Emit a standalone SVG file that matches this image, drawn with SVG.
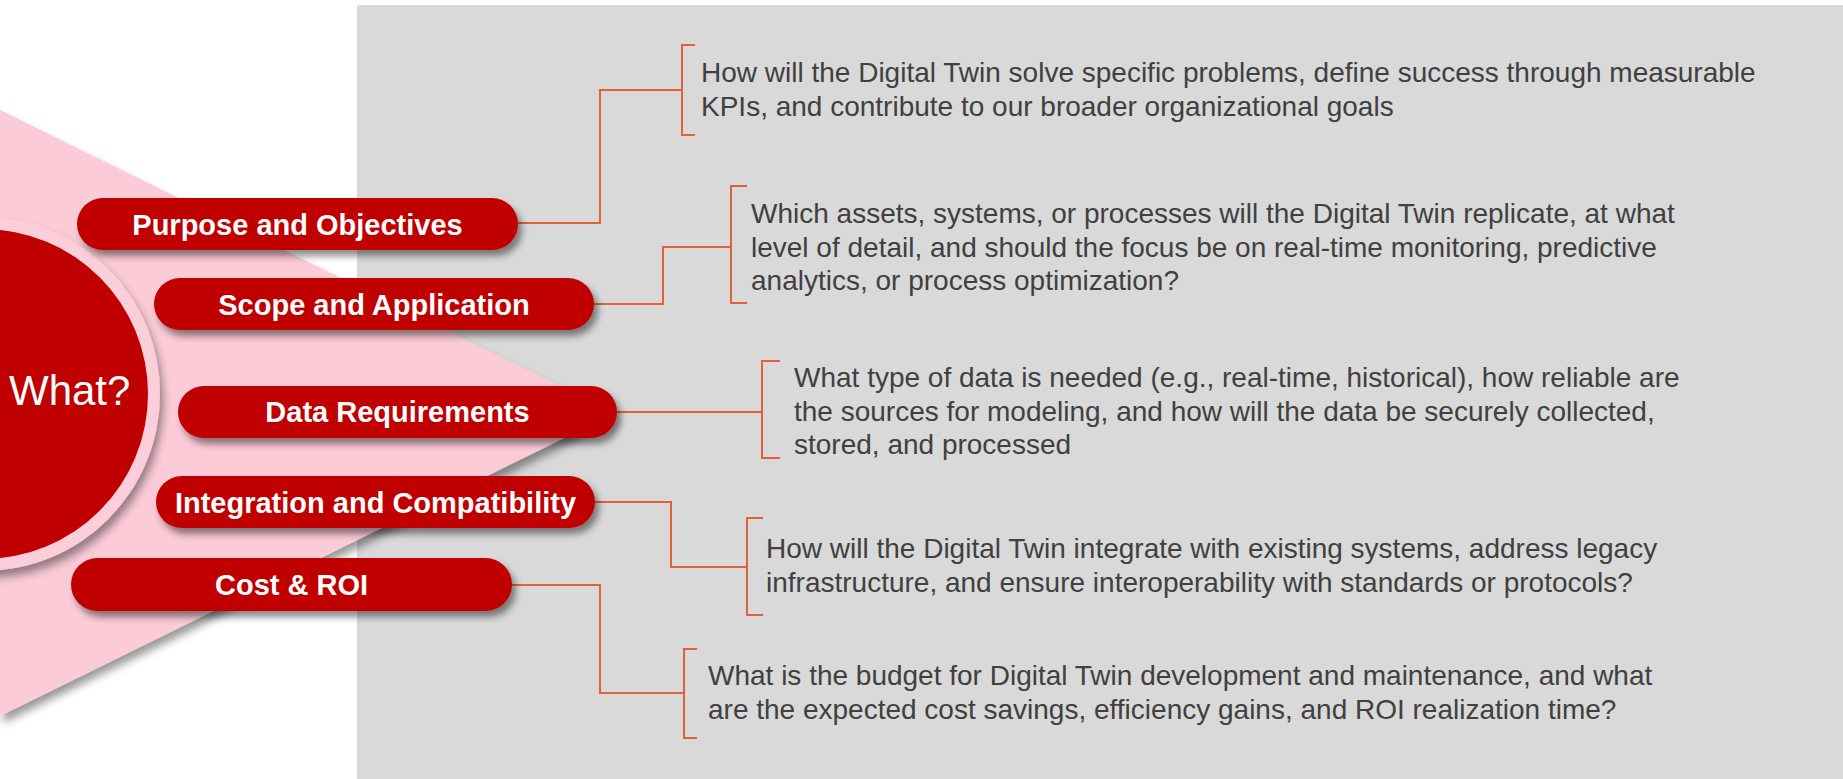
<svg xmlns="http://www.w3.org/2000/svg" width="1843" height="779" viewBox="0 0 1843 779">
<defs>
<filter id="sh" x="-20%" y="-30%" width="150%" height="180%">
<feDropShadow dx="4" dy="6" stdDeviation="3.5" flood-color="#000" flood-opacity="0.45"/>
</filter>
<filter id="shT" x="-10%" y="-10%" width="130%" height="130%">
<feDropShadow dx="3" dy="7" stdDeviation="4" flood-color="#000" flood-opacity="0.4"/>
</filter>
<style>
.pill{fill:#c00000;filter:url(#sh)}
.pt{font-family:"Liberation Sans",Arial,sans-serif;font-weight:bold;font-size:29px;fill:#fff;text-anchor:middle}
.q{font-family:"Liberation Sans",Arial,sans-serif;font-size:28px;fill:#404040}
.con{fill:none;stroke:#e2603a;stroke-width:2}
</style>
</defs>
<rect x="357" y="5" width="1486" height="774" fill="#d9d9d9"/>
<polygon points="0,110 615,413 0,716" fill="#fbcbd7" filter="url(#shT)"/>
<g id="what">
<circle cx="-17" cy="394" r="177" fill="#fbcfda" filter="url(#shT)"/>
<circle cx="-17" cy="394" r="165" fill="#c00000"/>
<text x="9" y="405" font-family="Liberation Sans,Arial,sans-serif" font-size="42" fill="#fff">What?</text>
</g>
<g id="connectors">
<path class="con" d="M518,223 H600 V90 H682"/>
<path class="con" d="M695,45 H682 V135 H695"/>
<path class="con" d="M594,304 H663 V247 H731"/>
<path class="con" d="M747,186 H731 V303 H747"/>
<path class="con" d="M617,412 H762"/>
<path class="con" d="M780,361 H762 V458 H780"/>
<path class="con" d="M595,502 H671 V567 H747"/>
<path class="con" d="M763,518 H747 V615 H763"/>
<path class="con" d="M512,585 H600 V693 H684"/>
<path class="con" d="M697,649 H684 V738 H697"/>
</g>
<g id="n1">
<rect class="pill" x="77" y="198" width="441" height="52" rx="26"/>
<text class="pt" x="297.5" y="235">Purpose and Objectives</text>
<text class="q" x="701" y="82">How will the Digital Twin solve specific problems, define success through measurable</text>
<text class="q" x="701" y="115.5">KPIs, and contribute to our broader organizational goals</text>
</g>
<g id="n2">
<rect class="pill" x="154" y="278" width="440" height="52" rx="26"/>
<text class="pt" x="374" y="315">Scope and Application</text>
<text class="q" x="751" y="223">Which assets, systems, or processes will the Digital Twin replicate, at what</text>
<text class="q" x="751" y="256.5">level of detail, and should the focus be on real-time monitoring, predictive</text>
<text class="q" x="751" y="290">analytics, or process optimization?</text>
</g>
<g id="n3">
<rect class="pill" x="178" y="386" width="439" height="52" rx="26"/>
<text class="pt" x="397.5" y="422">Data Requirements</text>
<text class="q" x="794" y="387">What type of data is needed (e.g., real-time, historical), how reliable are</text>
<text class="q" x="794" y="420.5">the sources for modeling, and how will the data be securely collected,</text>
<text class="q" x="794" y="454">stored, and processed</text>
</g>
<g id="n4">
<rect class="pill" x="156" y="476" width="439" height="52" rx="26"/>
<text class="pt" x="375.5" y="513">Integration and Compatibility</text>
<text class="q" x="766" y="558">How will the Digital Twin integrate with existing systems, address legacy</text>
<text class="q" x="766" y="592">infrastructure, and ensure interoperability with standards or protocols?</text>
</g>
<g id="n5">
<rect class="pill" x="71" y="558" width="441" height="53" rx="26.5"/>
<text class="pt" x="291.5" y="595">Cost &amp; ROI</text>
<text class="q" x="708" y="685">What is the budget for Digital Twin development and maintenance, and what</text>
<text class="q" x="708" y="719">are the expected cost savings, efficiency gains, and ROI realization time?</text>
</g>
</svg>
